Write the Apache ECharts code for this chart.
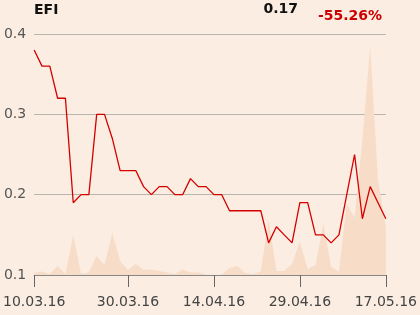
<!DOCTYPE html>
<html>
<head>
<meta charset="utf-8">
<script src="https://cdn.jsdelivr.net/npm/echarts@6/dist/echarts.min.js"></script>
<style>
html,body{margin:0;padding:0;background:#fbede1;}
#c{width:420px;height:315px;}
</style>
</head>
<body>
<div id="c"></div>
<script>
const dates = ["10.03.16","11.03.16","14.03.16","15.03.16","16.03.16","17.03.16","18.03.16","21.03.16","22.03.16","23.03.16","24.03.16","29.03.16","30.03.16","31.03.16","01.04.16","04.04.16","05.04.16","06.04.16","07.04.16","08.04.16","11.04.16","12.04.16","13.04.16","14.04.16","15.04.16","18.04.16","19.04.16","20.04.16","21.04.16","22.04.16","25.04.16","26.04.16","27.04.16","28.04.16","29.04.16","02.05.16","03.05.16","04.05.16","05.05.16","06.05.16","09.05.16","10.05.16","11.05.16","12.05.16","13.05.16","17.05.16"];
const prices = [0.38,0.36,0.36,0.32,0.32,0.19,0.20,0.20,0.30,0.30,0.27,0.23,0.23,0.23,0.21,0.20,0.21,0.21,0.20,0.20,0.22,0.21,0.21,0.20,0.20,0.18,0.18,0.18,0.18,0.18,0.14,0.16,0.15,0.14,0.19,0.19,0.15,0.15,0.14,0.15,0.20,0.25,0.17,0.21,0.19,0.17];
const volumes = [2,3.5,1,9,1,40,1,2.5,19,10,42,14,5,11,5,5.5,4,2.5,1,5.5,2.5,2.5,0.5,0,0.5,7,9,2,1,3.5,55,4,4,11,33,6,10,51,8,3.5,71,57,135,229,95,48];
const yTicks = [0.1,0.2,0.3,0.4];
const shownDates = ["10.03.16","30.03.16","14.04.16","29.04.16","17.05.16"];
const title = "EFI";
const lastValue = "0.17";
const change = "-55.26%";

const showIdx = i => shownDates.indexOf(dates[i]) >= 0;
const chart = echarts.init(document.getElementById('c'));
chart.setOption({
  backgroundColor: '#fbede1',
  animation: false,
  textStyle: {fontFamily: 'DejaVu Sans'},
  graphic: [
    {type:'text', left:34, top:3, style:{text:title, font:'bold 14px "DejaVu Sans"', fill:'#111'}},
    {type:'text', right:122, top:2, style:{text:lastValue, font:'bold 14px "DejaVu Sans"', fill:'#111'}},
    {type:'text', right:38, top:9, style:{text:change, font:'bold 14px "DejaVu Sans"', fill:'#cc0000'}}
  ],
  grid: {left:34, right:34, top:34, bottom:40},
  xAxis: {
    type:'category', data: dates, boundaryGap:false,
    axisLine:{lineStyle:{color:'#888', width:1}},
    axisTick:{interval:(i)=>showIdx(i), length:12, lineStyle:{color:'#666'}},
    axisLabel:{interval:(i)=>showIdx(i), color:'#444', fontSize:14, margin:20, fontFamily:'DejaVu Sans'}
  },
  yAxis: [
    {type:'value', min:0.1, max:0.4, interval:0.1,
     axisLine:{show:false}, axisTick:{show:false},
     axisLabel:{color:'#555', fontSize:14, margin:8, fontFamily:'DejaVu Sans', formatter:v=>String(Math.round(v*10)/10)},
     splitLine:{lineStyle:{color:'#b8b4b0', width:1}}},
    {type:'value', min:0, max:241, show:false, splitLine:{show:false}}
  ],
  series: [
    {type:'line', yAxisIndex:1, data: volumes, symbol:'none', lineStyle:{width:0},
     areaStyle:{color:'#f7dcc8', opacity:1}, z:1},
    {type:'line', yAxisIndex:0, data: prices, symbol:'none',
     lineStyle:{color:'#d40000', width:1.3}, z:3}
  ]
});
</script>
</body>
</html>
